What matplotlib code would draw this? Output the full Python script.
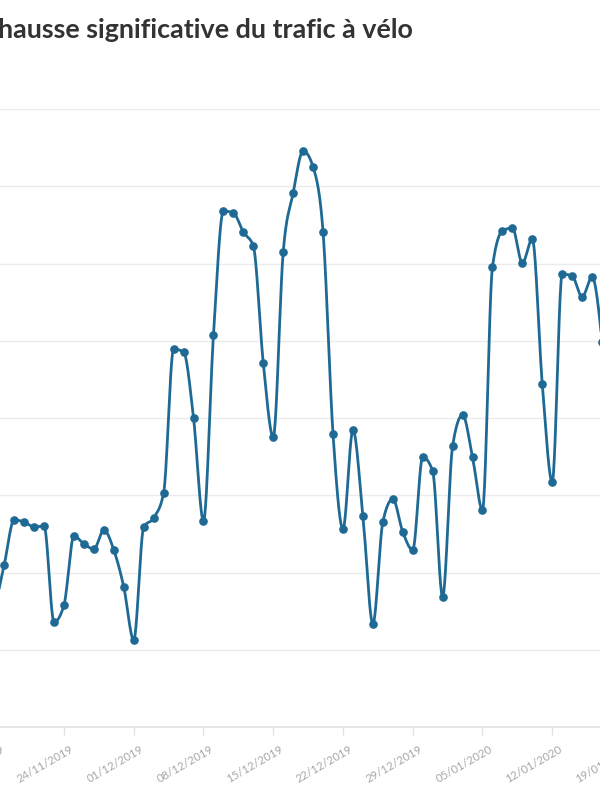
import numpy as np
import pandas as pd
import matplotlib
matplotlib.use("Agg")
import matplotlib.pyplot as plt
import matplotlib.dates as mdates
import matplotlib.transforms as mtransforms

# ---------------- data ----------------
start_date = "2019-11-17"
values = [1500, 2097, 2680, 2654, 2589, 2602, 1359, 1579, 2473, 2369,
          2304, 2550, 2291, 1812, 1126, 2589, 2706, 3029, 4893, 4854,
          4000, 2667, 5074, 6680, 6654, 6408, 6227, 4712, 3754, 6149,
          6913, 7456, 7249, 6408, 3793, 2563, 3845, 2731, 1333, 2654,
          2951, 2524, 2291, 3495, 3314, 1683, 3638, 4039, 3495, 2809,
          5955, 6421, 6460, 6006, 6317, 4440, 3172, 5864, 5838, 5566,
          5825, 4984, 3300]
dates = pd.date_range(start_date, periods=len(values), freq="D")
tick_dates = pd.date_range(start_date, "2020-01-19", freq="7D")
title = "hausse significative du trafic à vélo"
y_gridlines = [0, 1000, 2000, 3000, 4000, 5000, 6000, 7000, 8000]

LINE = "#1f6a95"


def monotone_x(x, y, n=24):
    x = np.asarray(x, float)
    y = np.asarray(y, float)
    h = np.diff(x)
    s = np.diff(y) / h
    t = np.zeros_like(y)
    for i in range(1, len(y) - 1):
        p = (s[i - 1] * h[i] + s[i] * h[i - 1]) / (h[i - 1] + h[i])
        sg = (1 if s[i - 1] >= 0 else -1) + (1 if s[i] >= 0 else -1)
        t[i] = sg * min(abs(s[i - 1]), abs(s[i]), 0.5 * abs(p))
    t[0] = (3 * s[0] - t[1]) / 2
    t[-1] = (3 * s[-1] - t[-2]) / 2
    xs, ys = [], []
    for i in range(len(y) - 1):
        u = np.linspace(0, 1, n, endpoint=(i == len(y) - 2))
        h00 = 2 * u**3 - 3 * u**2 + 1
        h10 = u**3 - 2 * u**2 + u
        h01 = -2 * u**3 + 3 * u**2
        h11 = u**3 - u**2
        xs.append(x[i] + u * h[i])
        ys.append(h00 * y[i] + h10 * h[i] * t[i] + h01 * y[i + 1] + h11 * h[i] * t[i + 1])
    return np.concatenate(xs), np.concatenate(ys)


xnum = mdates.date2num(dates)
sx, sy = monotone_x(xnum, values)

W, H = 600, 800
fig = plt.figure(figsize=(6, 8), dpi=100)
fig.patch.set_facecolor("white")
# axes extends a little beyond both figure edges (the view is cropped)
ax_left_px, ax_right_px = -30, 630
ax = fig.add_axes([ax_left_px / W, 0.09125, (ax_right_px - ax_left_px) / W, 0.7725])
ax.set_facecolor("none")

ax.plot(sx, sy, color=LINE, lw=2.0, solid_capstyle="round", zorder=3, clip_on=False)
ax.plot(xnum, values, "o", color=LINE, ms=5.2, zorder=4, clip_on=False)

ax.set_yticks(y_gridlines)
ax.set_yticklabels([])
ax.tick_params(axis="y", length=0)
for v in y_gridlines[1:]:
    ax.axhline(v, color="#ebebeb", lw=1.0, zorder=1)

for sp in ["top", "right", "left"]:
    ax.spines[sp].set_visible(False)
ax.spines["bottom"].set_color("#e2e2e2")
ax.spines["bottom"].set_linewidth(1.2)

ax.set_xticks(mdates.date2num(tick_dates))
ax.set_xticklabels([d.strftime("%d/%m/%Y") for d in tick_dates],
                   rotation=30, ha="right", va="top", rotation_mode="anchor",
                   fontsize=8.2, color="#a6a6a6", family="Lato")
ax.tick_params(axis="x", length=6, width=1, color="#e2e2e2", pad=6)
offset = mtransforms.ScaledTranslation(6 / 100, 0, fig.dpi_scale_trans)
for lab in ax.get_xticklabels():
    lab.set_transform(lab.get_transform() + offset)

x0 = mdates.date2num(pd.Timestamp(start_date))
px_per_day, px_first = 9.964, -5.75
ax.set_xlim(x0 + (ax_left_px - px_first) / px_per_day,
            x0 + (ax_right_px - px_first) / px_per_day)
ax.set_ylim(0, 8000)

fig.text(413 / W, 1 - 38 / H, title, ha="right", va="baseline",
         fontsize=19.4, fontweight="bold", color="#333333", family="Lato")

fig.savefig("out.png", dpi=100, facecolor="white")
